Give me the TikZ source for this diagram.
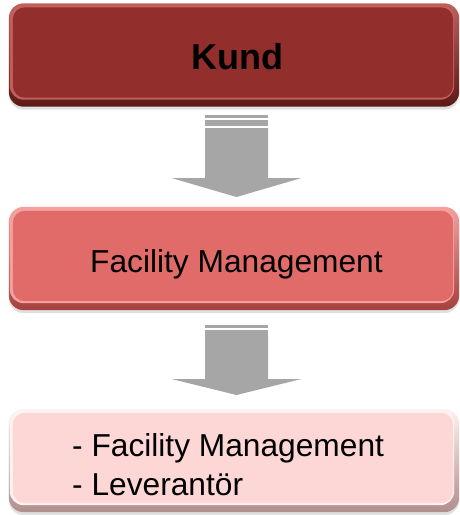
\documentclass[tikz,border=0pt]{standalone}
\usepackage{fontspec}
\setmainfont{Liberation Sans}
\usetikzlibrary{backgrounds}
\definecolor{kmain}{HTML}{922E2B}
\definecolor{klight}{HTML}{C0605C}
\definecolor{kdark}{HTML}{5A1917}
\definecolor{fmain}{HTML}{E06B68}
\definecolor{flight}{HTML}{F4A19E}
\definecolor{fdark}{HTML}{A5413E}
\definecolor{lmain}{HTML}{FDD7D6}
\definecolor{llight}{HTML}{FFF2F2}
\definecolor{ldark}{HTML}{B08E8D}
\definecolor{arrowgrey}{HTML}{A6A6A6}
\newcommand\bevelfill[4]{%
  \fill[black, opacity=.12, rounded corners=15pt] ([yshift=-3pt]#1.north west) rectangle ([yshift=-3pt]#1.south east);
  \shade[top color=#3, bottom color=#4, rounded corners=15pt] (#1.north west) rectangle (#1.south east);
  \fill[#3, rounded corners=14pt] ([shift={(1pt,-1pt)}]#1.north west) rectangle ([shift={(-5pt,7pt)}]#1.south east);
  \fill[#2, rounded corners=12pt] ([shift={(4pt,-4pt)}]#1.north west) rectangle ([shift={(-6pt,9pt)}]#1.south east);
}
\newcommand\blockarrow[5]{% x center, stripe1 top, shaft top, head y, tip y
  \fill[arrowgrey] (#1-31.5,#2) rectangle (#1+31.5,#2+3);
  \fill[arrowgrey] (#1-31.5,#2+5) rectangle (#1+31.5,#2+11);
  \fill[arrowgrey] (#1-31.5,#3) -- (#1+31.5,#3) -- (#1+31.5,#4) -- (#1+65,#4) -- (#1,#5) -- (#1-65,#4) -- (#1-31.5,#4) -- cycle;
}
\tikzset{
  box/.style={rectangle, draw=none, minimum width=450pt, minimum height=103pt, inner sep=0pt},
  label/.style={inner sep=0pt, text=black, font=\fontsize{31.7}{36}\selectfont},
}
\begin{document}
\begin{tikzpicture}[x=1pt, y=-1pt]
\useasboundingbox (0,0) rectangle (460,515);
\node[box] (kund) at (234,55) {};
\node[box] (fm) at (234,258.5) {};
\node[box] (lev) at (234,460.5) {};
\begin{scope}[on background layer]
  \bevelfill{kund}{kmain}{klight}{kdark}
  \bevelfill{fm}{fmain}{flight}{fdark}
  \bevelfill{lev}{lmain}{llight}{ldark}
\end{scope}
\node[label, anchor=base, font=\fontsize{36}{40}\selectfont\bfseries] (kundtext) at (237.5,69) {Kund};
\node[label, anchor=base west] (fmtext) at (90,272) {Facility Management};
\node[label, anchor=base west] (levtext1) at (72,456) {- Facility Management};
\node[label, anchor=base west] (levtext2) at (72,495) {- Leverantör};
\blockarrow{236.5}{115}{128}{178}{197}
\blockarrow{236.5}{325}{336}{379}{395}
\end{tikzpicture}
\end{document}
